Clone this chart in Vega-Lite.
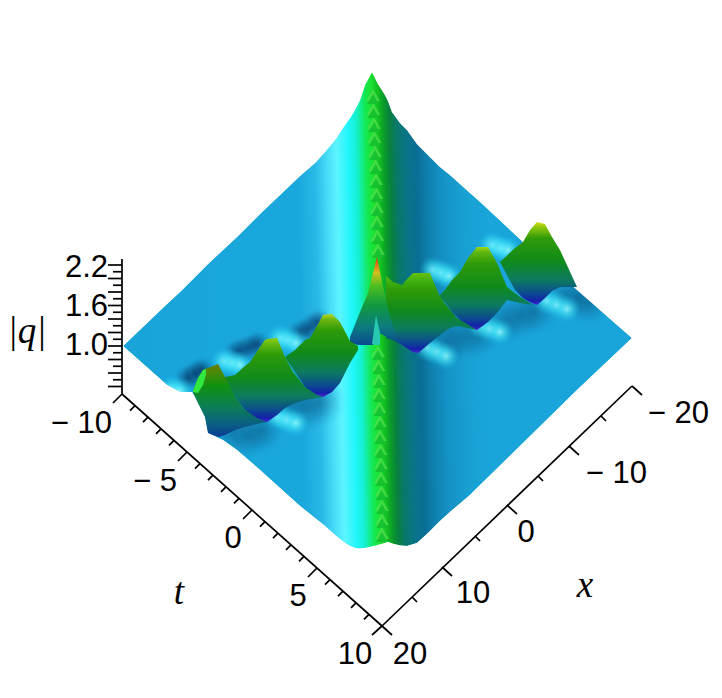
{
"$schema":"https://vega.github.io/schema/vega-lite/v6.json",
"width":722,"height":698,"padding":0,"autosize":{"type":"none"},
"background":"white",
"config":{"view":{"stroke":null}},
"datasets":{
"surface":[{"u":123,"top":346,"bot":346},{"u":167,"top":304,"bot":385},{"u":180,"top":292,"bot":392},{"u":192,"top":280,"bot":392},{"u":198,"top":274,"bot":403},{"u":205,"top":267,"bot":417},{"u":208,"top":264,"bot":433},{"u":223,"top":250,"bot":440},{"u":237,"top":237,"bot":450},{"u":260,"top":214,"bot":470},{"u":300,"top":176,"bot":506},{"u":315,"top":163,"bot":518},{"u":325,"top":152,"bot":526},{"u":335,"top":140,"bot":535},{"u":345,"top":125,"bot":543},{"u":350,"top":118,"bot":546},{"u":355,"top":110,"bot":548},{"u":360,"top":100,"bot":548.5},{"u":365,"top":85,"bot":548},{"u":372,"top":72,"bot":546.5},{"u":378,"top":84,"bot":545},{"u":385,"top":95,"bot":543},{"u":388,"top":101,"bot":542},{"u":392,"top":112,"bot":543.5},{"u":400,"top":123,"bot":545.5},{"u":407,"top":130,"bot":546},{"u":417,"top":144,"bot":543},{"u":428,"top":155,"bot":533},{"u":440,"top":167,"bot":521},{"u":450,"top":175,"bot":512},{"u":470,"top":193,"bot":495},{"u":478,"top":200,"bot":487},{"u":523,"top":242,"bot":443},{"u":577,"top":290,"bot":390},{"u":632,"top":338,"bot":338}],
"chevrons":[{"u":373,"v":95},{"u":373.5,"v":109},{"u":374,"v":123},{"u":374.5,"v":137},{"u":375,"v":151},{"u":375.5,"v":165},{"u":376,"v":179},{"u":376.5,"v":193},{"u":377,"v":207},{"u":377,"v":221},{"u":377.5,"v":235},{"u":378,"v":249},{"u":378,"v":351},{"u":378.5,"v":365},{"u":379,"v":379},{"u":379,"v":393},{"u":379.5,"v":407},{"u":380,"v":421},{"u":380,"v":435},{"u":380.5,"v":449},{"u":381,"v":463},{"u":381,"v":477},{"u":381.5,"v":491},{"u":382,"v":505},{"u":382,"v":519},{"u":382,"v":533}],
"shadows":[{"x0":173,"x1":203,"y0":363,"y1":393},{"x0":180,"x1":210,"y0":359,"y1":389},{"x0":187,"x1":217,"y0":355,"y1":385},{"x0":223,"x1":253,"y0":336,"y1":366},{"x0":233,"x1":263,"y0":333,"y1":363},{"x0":242,"x1":272,"y0":329,"y1":359},{"x0":285,"x1":315,"y0":318,"y1":348},{"x0":294,"x1":324,"y0":313,"y1":343},{"x0":303,"x1":333,"y0":307,"y1":337}],
"bodies":[{"x0":206,"x1":258,"y0":406,"y1":458},{"x0":222,"x1":274,"y0":410,"y1":462},{"x0":236,"x1":288,"y0":404,"y1":456},{"x0":264,"x1":316,"y0":376,"y1":428},{"x0":279,"x1":331,"y0":382,"y1":434},{"x0":294,"x1":346,"y0":376,"y1":428},{"x0":419,"x1":471,"y0":319,"y1":371},{"x0":434,"x1":486,"y0":312,"y1":364},{"x0":452,"x1":504,"y0":309,"y1":361},{"x0":479,"x1":531,"y0":296,"y1":348},{"x0":494,"x1":546,"y0":290,"y1":342},{"x0":509,"x1":561,"y0":286,"y1":338},{"x0":539,"x1":591,"y0":272,"y1":324},{"x0":552,"x1":604,"y0":272,"y1":324},{"x0":564,"x1":616,"y0":276,"y1":328}],
"glows":[{"x0":210,"x1":238,"y0":347,"y1":375},{"x0":218,"x1":246,"y0":349,"y1":377},{"x0":226,"x1":254,"y0":351,"y1":379},{"x0":266,"x1":294,"y0":324,"y1":352},{"x0":274,"x1":302,"y0":326,"y1":354},{"x0":282,"x1":310,"y0":329,"y1":357},{"x0":419,"x1":447,"y0":256,"y1":284},{"x0":427,"x1":455,"y0":259,"y1":287},{"x0":435,"x1":463,"y0":262,"y1":290},{"x0":478,"x1":506,"y0":231,"y1":259},{"x0":486,"x1":514,"y0":234,"y1":262},{"x0":494,"x1":522,"y0":236,"y1":264},{"x0":264,"x1":292,"y0":403,"y1":431},{"x0":273,"x1":301,"y0":406,"y1":434},{"x0":282,"x1":310,"y0":409,"y1":437},{"x0":466,"x1":494,"y0":311,"y1":339},{"x0":476,"x1":504,"y0":315,"y1":343},{"x0":486,"x1":514,"y0":318,"y1":346},{"x0":533,"x1":561,"y0":287,"y1":315},{"x0":543,"x1":571,"y0":291,"y1":319},{"x0":553,"x1":581,"y0":295,"y1":323},{"x0":414,"x1":442,"y0":334,"y1":362},{"x0":423,"x1":451,"y0":338,"y1":366},{"x0":432,"x1":460,"y0":342,"y1":370},{"x0":158,"x1":186,"y0":375,"y1":403},{"x0":166,"x1":194,"y0":377,"y1":405}],
"peak6":[{"u":500,"top":262,"bot":262},{"u":515,"top":248,"bot":290},{"u":523,"top":242,"bot":298},{"u":530,"top":230,"bot":302},{"u":537,"top":222,"bot":305},{"u":545,"top":224,"bot":298},{"u":552,"top":237,"bot":291},{"u":560,"top":250,"bot":287},{"u":577,"top":287,"bot":287}],
"peak5":[{"u":438,"top":297,"bot":297},{"u":445,"top":290,"bot":302},{"u":452,"top":280,"bot":312},{"u":460,"top":272,"bot":320},{"u":468,"top":258,"bot":327},{"u":477,"top":247,"bot":330},{"u":488,"top":247,"bot":322},{"u":497,"top":263,"bot":313},{"u":507,"top":287,"bot":300},{"u":520,"top":297,"bot":303},{"u":533,"top":305,"bot":305}],
"peak4":[{"u":386,"top":276,"bot":338},{"u":393,"top":282,"bot":340},{"u":402,"top":285,"bot":345},{"u":408,"top":278,"bot":349},{"u":413,"top":273,"bot":352},{"u":418,"top":273,"bot":353},{"u":430,"top":273,"bot":343},{"u":440,"top":297,"bot":335},{"u":450,"top":310,"bot":328},{"u":457,"top":318,"bot":326},{"u":477,"top":330,"bot":330}],
"centre":[{"u":350,"top":337,"bot":343},{"u":358,"top":317,"bot":345},{"u":368,"top":293,"bot":345},{"u":373,"top":273,"bot":345},{"u":377,"top":257,"bot":332},{"u":383,"top":287,"bot":335},{"u":390,"top":317,"bot":338},{"u":397,"top":337,"bot":340}],
"sliver":[{"u":372,"top":344,"bot":344},{"u":376,"top":315,"bot":345},{"u":380,"top":333,"bot":345}],
"peak3":[{"u":285,"top":357,"bot":357},{"u":295,"top":350,"bot":372},{"u":305,"top":340,"bot":387},{"u":310,"top":338,"bot":392},{"u":317,"top":326,"bot":395},{"u":323,"top":315,"bot":397},{"u":332,"top":314,"bot":392},{"u":340,"top":322,"bot":383},{"u":350,"top":341,"bot":363},{"u":358,"top":346,"bot":350}],
"peak2":[{"u":225,"top":377,"bot":380},{"u":235,"top":375,"bot":397},{"u":245,"top":366,"bot":410},{"u":250,"top":362,"bot":415},{"u":258,"top":350,"bot":419},{"u":265,"top":340,"bot":422},{"u":267,"top":339,"bot":422},{"u":277,"top":338,"bot":415},{"u":285,"top":357,"bot":408},{"u":293,"top":372,"bot":404},{"u":305,"top":387,"bot":400},{"u":317,"top":395,"bot":398},{"u":323,"top":397,"bot":397}],
"peak1":[{"u":193,"top":391,"bot":392},{"u":198,"top":378,"bot":403},{"u":203,"top":370,"bot":413},{"u":205,"top":369,"bot":417},{"u":208,"top":368,"bot":433},{"u":218,"top":364,"bot":437},{"u":225,"top":377,"bot":435},{"u":235,"top":397,"bot":430},{"u":245,"top":410,"bot":427},{"u":257,"top":418,"bot":424},{"u":267,"top":422,"bot":422}],
"bright":[{"u":193,"top":391,"bot":392},{"u":198,"top":378,"bot":393},{"u":203,"top":370,"bot":385},{"u":206,"top":369,"bot":375}],
"rules":[
{"a":122,"b":259,"c":122,"d":394},
{"a":122,"b":394,"c":382,"d":626},
{"a":382,"b":626,"c":632,"d":386},
{"a":122,"b":265,"c":108,"d":265},{"a":122,"b":271.75,"c":113,"d":271.75},{"a":122,"b":278.5,"c":108,"d":278.5},{"a":122,"b":285.25,"c":113,"d":285.25},{"a":122,"b":292,"c":108,"d":292},{"a":122,"b":298.75,"c":113,"d":298.75},{"a":122,"b":305.5,"c":108,"d":305.5},{"a":122,"b":312.25,"c":113,"d":312.25},{"a":122,"b":319,"c":108,"d":319},{"a":122,"b":325.75,"c":113,"d":325.75},{"a":122,"b":332.5,"c":108,"d":332.5},{"a":122,"b":339.25,"c":113,"d":339.25},{"a":122,"b":346,"c":108,"d":346},{"a":122,"b":352.75,"c":113,"d":352.75},{"a":122,"b":359.5,"c":108,"d":359.5},{"a":122,"b":366.25,"c":113,"d":366.25},{"a":122,"b":373,"c":108,"d":373},{"a":122,"b":379.75,"c":113,"d":379.75},{"a":122,"b":386.5,"c":108,"d":386.5},
{"a":122,"b":394,"c":113,"d":403},{"a":135,"b":405.6,"c":130,"d":410.6},{"a":148,"b":417.2,"c":143,"d":422.2},{"a":161,"b":428.8,"c":156,"d":433.8},{"a":174,"b":440.4,"c":169,"d":445.4},{"a":187,"b":452,"c":178,"d":461},{"a":200,"b":463.6,"c":195,"d":468.6},{"a":213,"b":475.2,"c":208,"d":480.2},{"a":226,"b":486.8,"c":221,"d":491.8},{"a":239,"b":498.4,"c":234,"d":503.4},{"a":252,"b":510,"c":243,"d":519},{"a":265,"b":521.6,"c":260,"d":526.6},{"a":278,"b":533.2,"c":273,"d":538.2},{"a":291,"b":544.8,"c":286,"d":549.8},{"a":304,"b":556.4,"c":299,"d":561.4},{"a":317,"b":568,"c":308,"d":577},{"a":330,"b":579.6,"c":325,"d":584.6},{"a":343,"b":591.2,"c":338,"d":596.2},{"a":356,"b":602.8,"c":351,"d":607.8},{"a":369,"b":614.4,"c":364,"d":619.4},{"a":382,"b":626,"c":372,"d":635},
{"a":382,"b":626,"c":392,"d":635},{"a":412,"b":597,"c":417,"d":602},{"a":442,"b":567,"c":452,"d":576},{"a":475,"b":536,"c":480,"d":541},{"a":507,"b":505,"c":517,"d":514},{"a":538,"b":476,"c":543,"d":481},{"a":569,"b":446,"c":579,"d":455},{"a":601,"b":416,"c":606,"d":421},{"a":632,"b":386,"c":642,"d":395}
],
"rightLabels":[{"u":108,"v":268,"s":"2.2"},{"u":108,"v":307,"s":"1.6"},{"u":108,"v":346,"s":"1.0"},{"u":112,"v":424,"s":"− 10"},{"u":177,"v":482,"s":"− 5"},{"u":647,"v":474,"s":"− 10"},{"u":709,"v":414,"s":"− 20"}],
"midLabels":[{"u":233,"v":539,"s":"0"},{"u":298,"v":597,"s":"5"},{"u":355,"v":655,"s":"10"},{"u":410,"v":655,"s":"20"},{"u":473,"v":594,"s":"10"},{"u":526,"v":533,"s":"0"}],
"italicLabels":[{"u":27,"v":332,"s":"|q|"},{"u":179,"v":593,"s":"t"},{"u":585,"v":586,"s":"x"}]
},
"encoding":{
"x":{"type":"quantitative","scale":{"domain":[0,722],"nice":false,"zero":false},"axis":null},
"y":{"type":"quantitative","scale":{"domain":[698,0],"nice":false,"zero":false},"axis":null}
},
"layer":[
{"data":{"name":"surface"},"mark":{"type":"area","color":{"gradient":"linear","x1":0,"y1":0.51,"x2":1,"y2":0.49,"stops":[
{"offset":0,"color":"#18a4d9"},{"offset":0.348,"color":"#1aa8dc"},{"offset":0.383,"color":"#2ab8e6"},{"offset":0.407,"color":"#48dcf8"},{"offset":0.426,"color":"#5cf4ff"},{"offset":0.45,"color":"#20f6fa"},{"offset":0.466,"color":"#14f0d0"},{"offset":0.475,"color":"#14ec90"},{"offset":0.485,"color":"#14e850"},{"offset":0.497,"color":"#1ce030"},{"offset":0.509,"color":"#12c020"},{"offset":0.521,"color":"#0a9a2a"},{"offset":0.532,"color":"#088040"},{"offset":0.544,"color":"#087868"},{"offset":0.564,"color":"#0a7488"},{"offset":0.583,"color":"#0a6e96"},{"offset":0.603,"color":"#0e80ad"},{"offset":0.633,"color":"#1492c6"},{"offset":0.672,"color":"#18a0d2"},{"offset":0.721,"color":"#19a5da"},{"offset":1,"color":"#19a5da"}]}},
"encoding":{"x":{"field":"u"},"y":{"field":"top"},"y2":{"field":"bot"}}},
{"data":{"name":"chevrons"},"mark":{"type":"point","shape":"triangle-up","filled":true,"size":190,"color":"#52e050","opacity":0.7},
"encoding":{"x":{"field":"u"},"y":{"field":"v"}}},
{"data":{"name":"chevrons"},"mark":{"type":"point","shape":"triangle-up","filled":true,"size":130,"color":"#14c030","opacity":0.9},
"encoding":{"x":{"field":"u"},"y":{"field":"v"},"yOffset":{"value":4}}},
{"data":{"name":"bodies"},"mark":{"type":"rect","color":{"gradient":"radial","x1":0.5,"y1":0.5,"r1":0,"x2":0.5,"y2":0.5,"r2":0.5,"stops":[{"offset":0,"color":"rgba(10,90,130,0.5)"},{"offset":0.5,"color":"rgba(12,100,150,0.25)"},{"offset":1,"color":"rgba(25,165,218,0)"}]}},
"encoding":{"x":{"field":"x0"},"x2":{"field":"x1"},"y":{"field":"y0"},"y2":{"field":"y1"}}},
{"data":{"name":"shadows"},"mark":{"type":"rect","color":{"gradient":"radial","x1":0.5,"y1":0.5,"r1":0,"x2":0.5,"y2":0.5,"r2":0.5,"stops":[{"offset":0,"color":"rgba(6,50,100,0.75)"},{"offset":0.5,"color":"rgba(8,70,120,0.35)"},{"offset":1,"color":"rgba(25,165,218,0)"}]}},
"encoding":{"x":{"field":"x0"},"x2":{"field":"x1"},"y":{"field":"y0"},"y2":{"field":"y1"}}},
{"data":{"name":"glows"},"mark":{"type":"rect","color":{"gradient":"radial","x1":0.5,"y1":0.5,"r1":0,"x2":0.5,"y2":0.5,"r2":0.5,"stops":[{"offset":0,"color":"rgba(150,250,255,0.85)"},{"offset":0.45,"color":"rgba(70,235,252,0.5)"},{"offset":1,"color":"rgba(25,190,230,0)"}]}},
"encoding":{"x":{"field":"x0"},"x2":{"field":"x1"},"y":{"field":"y0"},"y2":{"field":"y1"}}},
{"data":{"name":"surface"},"mark":{"type":"area","color":"#ffffff"},"encoding":{"x":{"field":"u"},"y":{"field":"bot"},"y2":{"datum":698}}},
{"data":{"name":"surface"},"mark":{"type":"area","color":"#ffffff"},"encoding":{"x":{"field":"u"},"y":{"field":"top"},"y2":{"datum":0}}},
{"data":{"name":"peak6"},"mark":{"type":"area","color":{"gradient":"linear","x1":0,"y1":0,"x2":0,"y2":1,"stops":[{"offset":0,"color":"#d8e018"},{"offset":0.06,"color":"#90c810"},{"offset":0.2,"color":"#2e9a08"},{"offset":0.48,"color":"#0f8a1c"},{"offset":0.7,"color":"#0c7a60"},{"offset":0.86,"color":"#0b4a90"},{"offset":0.95,"color":"#1420a8"},{"offset":1,"color":"#4a20d8"}]}},
"encoding":{"x":{"field":"u"},"y":{"field":"top"},"y2":{"field":"bot"}}},
{"data":{"name":"peak5"},"mark":{"type":"area","color":{"gradient":"linear","x1":0,"y1":0,"x2":0,"y2":1,"stops":[{"offset":0,"color":"#a0d818"},{"offset":0.06,"color":"#60b810"},{"offset":0.2,"color":"#2e9a08"},{"offset":0.48,"color":"#0f8a1c"},{"offset":0.7,"color":"#0c7a60"},{"offset":0.86,"color":"#0b4a90"},{"offset":0.95,"color":"#1420a8"},{"offset":1,"color":"#4a20d8"}]}},
"encoding":{"x":{"field":"u"},"y":{"field":"top"},"y2":{"field":"bot"}}},
{"data":{"name":"peak4"},"mark":{"type":"area","color":{"gradient":"linear","x1":0,"y1":0,"x2":0,"y2":1,"stops":[{"offset":0,"color":"#68c010"},{"offset":0.1,"color":"#40b010"},{"offset":0.22,"color":"#2e9a08"},{"offset":0.48,"color":"#0f8a1c"},{"offset":0.7,"color":"#0c7a60"},{"offset":0.86,"color":"#0b4a90"},{"offset":0.95,"color":"#1420a8"},{"offset":1,"color":"#4a20d8"}]}},
"encoding":{"x":{"field":"u"},"y":{"field":"top"},"y2":{"field":"bot"}}},
{"data":{"name":"centre"},"mark":{"type":"area","color":{"gradient":"linear","x1":0,"y1":0,"x2":0,"y2":1,"stops":[{"offset":0,"color":"#d82a10"},{"offset":0.08,"color":"#e07018"},{"offset":0.18,"color":"#d0c020"},{"offset":0.32,"color":"#50c020"},{"offset":0.55,"color":"#0f9a40"},{"offset":0.8,"color":"#0c7a80"},{"offset":1,"color":"#0a4a90"}]}},
"encoding":{"x":{"field":"u"},"y":{"field":"top"},"y2":{"field":"bot"}}},
{"data":{"name":"sliver"},"mark":{"type":"area","color":"#28c8b0"},"encoding":{"x":{"field":"u"},"y":{"field":"top"},"y2":{"field":"bot"}}},
{"data":{"name":"peak3"},"mark":{"type":"area","color":{"gradient":"linear","x1":0,"y1":0,"x2":0,"y2":1,"stops":[{"offset":0,"color":"#c0d818"},{"offset":0.06,"color":"#70b810"},{"offset":0.2,"color":"#2e9a08"},{"offset":0.48,"color":"#0f8a1c"},{"offset":0.7,"color":"#0c7a60"},{"offset":0.86,"color":"#0b4a90"},{"offset":0.95,"color":"#1420a8"},{"offset":1,"color":"#4a20d8"}]}},
"encoding":{"x":{"field":"u"},"y":{"field":"top"},"y2":{"field":"bot"}}},
{"data":{"name":"peak2"},"mark":{"type":"area","color":{"gradient":"linear","x1":0,"y1":0,"x2":0,"y2":1,"stops":[{"offset":0,"color":"#90d010"},{"offset":0.08,"color":"#60b810"},{"offset":0.2,"color":"#2e9a08"},{"offset":0.48,"color":"#0f8a1c"},{"offset":0.7,"color":"#0c7a60"},{"offset":0.86,"color":"#0b4a90"},{"offset":0.95,"color":"#1420a8"},{"offset":1,"color":"#4a20d8"}]}},
"encoding":{"x":{"field":"u"},"y":{"field":"top"},"y2":{"field":"bot"}}},
{"data":{"name":"peak1"},"mark":{"type":"area","color":{"gradient":"linear","x1":0,"y1":0,"x2":0,"y2":1,"stops":[{"offset":0,"color":"#6a7a00"},{"offset":0.12,"color":"#4a8a08"},{"offset":0.3,"color":"#109010"},{"offset":0.6,"color":"#0c7c58"},{"offset":0.85,"color":"#0a5a88"},{"offset":1,"color":"rgba(8,50,140,0.9)"}]}},
"encoding":{"x":{"field":"u"},"y":{"field":"top"},"y2":{"field":"bot"}}},
{"data":{"name":"bright"},"mark":{"type":"area","color":"#30e840"},"encoding":{"x":{"field":"u"},"y":{"field":"top"},"y2":{"field":"bot"}}},
{"data":{"name":"rules"},"mark":{"type":"rule","color":"#000000","strokeWidth":1.7},
"encoding":{"x":{"field":"a"},"y":{"field":"b"},"x2":{"field":"c"},"y2":{"field":"d"}}},
{"data":{"name":"rightLabels"},"mark":{"type":"text","align":"right","baseline":"middle","font":"Liberation Sans","fontSize":31,"color":"#000000"},"encoding":{"x":{"field":"u"},"y":{"field":"v"},"text":{"field":"s"}}},
{"data":{"name":"midLabels"},"mark":{"type":"text","align":"center","baseline":"middle","font":"Liberation Sans","fontSize":31,"color":"#000000"},"encoding":{"x":{"field":"u"},"y":{"field":"v"},"text":{"field":"s"}}},
{"data":{"name":"italicLabels"},"mark":{"type":"text","align":"center","baseline":"middle","font":"Liberation Serif","fontStyle":"italic","fontSize":37,"color":"#000000"},"encoding":{"x":{"field":"u"},"y":{"field":"v"},"text":{"field":"s"}}}
]
}
